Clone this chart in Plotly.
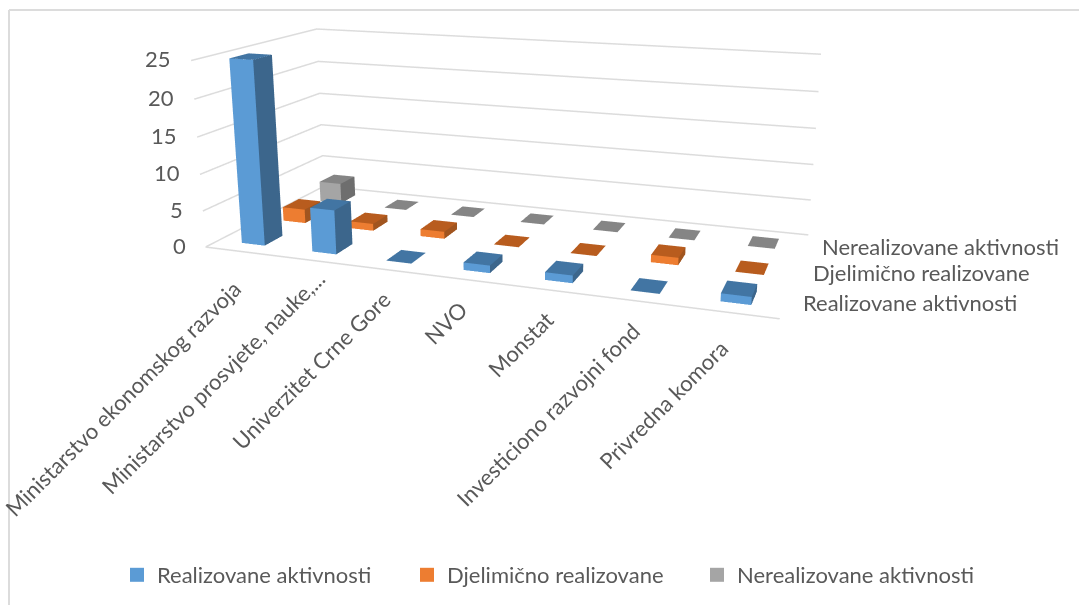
import plotly.graph_objects as go

categories = ["Ministarstvo ekonomskog razvoja", "Ministarstvo prosvjete, nauke,...", "Univerzitet Crne Gore", "NVO", "Monstat", "Investiciono razvojni fond", "Privredna komora"]
realizovane = [25, 6, 0, 1, 1, 0, 1]
djelimicno = [2, 1, 1, 0, 0, 1, 0]
nerealizovane = [3, 0, 0, 0, 0, 0, 0]
series_names = ["Realizovane aktivnosti", "Djelimično realizovane", "Nerealizovane aktivnosti"]
z_ticks = [0, 5, 10, 15, 20, 25]

W, H, TOP = 1079, 931, -284
def py(v):
    return 1-(v-TOP)/H

BAR_W = 0.33
BAR_D = 0.42
TXT = "#595959"
GRID = "#dcdcdc"
face_cols = [("#5B9BD5", "#3C668C", "#4275A3"), ("#ED7D31", "#A1551F", "#B85C1E"), ("#A5A5A5", "#6E6E6E", "#858585")]
label_dx = [8, 20, 10, 8, 10, 9, 4]
label_dy = [-21, -2, -13, -13, -13, -13, -19]

def bars(values, j, cols):
    X, Y, Z, I, J, K, C = [], [], [], [], [], [], []
    front, side, top = cols
    for i, v in enumerate(values):
        x0, x1 = i+0.5-BAR_W/2, i+0.5+BAR_W/2
        y0, y1 = j+0.5-BAR_D/2, j+0.5+BAR_D/2
        n = len(X)
        X += [x0,x1,x1,x0,x0,x1,x1,x0]
        Y += [y0,y0,y1,y1,y0,y0,y1,y1]
        Z += [0,0,0,0,v,v,v,v]
        tris = [(0,1,5,front),(0,5,4,front),(1,2,6,side),(1,6,5,side),(4,5,6,top),(4,6,7,top)]
        for a,b,d,col in tris:
            I.append(n+a); J.append(n+b); K.append(n+d); C.append(col)
    return go.Mesh3d(x=X,y=Y,z=Z,i=I,j=J,k=K,facecolor=C,flatshading=True,showlegend=False,hoverinfo="skip",
        lighting=dict(ambient=1,diffuse=0,specular=0,fresnel=0,roughness=1))

fig = go.Figure()
gx, gy, gz = [0, 7, None], [0, 0, None], [0, 0, None]
for v in z_ticks:
    gx += [0, 0, 7, None]; gy += [0, 3, 3, None]; gz += [v, v, v, None]
fig.add_trace(go.Scatter3d(x=gx, y=gy, z=gz, mode="lines", line=dict(color=GRID, width=3), showlegend=False, hoverinfo="skip"))
for j, vals in enumerate([realizovane, djelimicno, nerealizovane]):
    fig.add_trace(bars(vals, j, face_cols[j]))
for j, name in enumerate(series_names):
    fig.add_trace(go.Scatter(x=[None], y=[None], mode="markers", name=name, marker=dict(symbol="square", size=14, color=face_cols[j][0])))

FONT = dict(family="Lato", size=22, color=TXT)
ann = []
for i, c_ in enumerate(categories):
    ann.append(dict(x=i+0.5, y=0, z=0, text=c_, textangle=-45, xanchor="right", yanchor="top", yshift=label_dy[i], xshift=label_dx[i], showarrow=False, font=FONT))
for v in z_ticks:
    ann.append(dict(x=0, y=0, z=v, text=str(v), xanchor="right", yanchor="middle", xshift=-18, yshift=2, showarrow=False, font=FONT))
for j, name in enumerate(series_names):
    ann.append(dict(x=7, y=j+0.5, z=0, text=name, xanchor="left", yanchor="middle", xshift=15, showarrow=False, font=FONT))

noax = dict(showbackground=False, showgrid=False, zeroline=False, showticklabels=False, title="", showspikes=False, ticks="", showline=False, tickvals=[])
fig.update_layout(
    width=W, height=H, margin=dict(l=0,r=0,t=0,b=0), paper_bgcolor="white", plot_bgcolor="rgba(0,0,0,0)",
    font=FONT,
    xaxis=dict(visible=False), yaxis=dict(visible=False),
    legend=dict(orientation="h", x=117/W, y=py(575), xanchor="left", yanchor="middle", entrywidth=245, font=FONT, bgcolor="rgba(0,0,0,0)"),
    shapes=[dict(type="line", xref="paper", yref="paper", x0=9/W, x1=1, y0=py(10), y1=py(10), line=dict(color=GRID, width=2)),
            dict(type="line", xref="paper", yref="paper", x0=9/W, x1=9/W, y0=py(10), y1=py(605), line=dict(color=GRID, width=2))],
    scene=dict(domain=dict(x=[0,1038.4/W],y=[0,1]), aspectmode="manual", aspectratio=dict(x=2, y=0.8550, z=0.6655),
        camera=dict(eye=dict(x=1.3080, y=-3.6214, z=0.9404), center=dict(x=0.0334, y=-0.0181, z=-0.1033),
                    up=dict(x=-0.0014, y=-0.0005, z=1), projection=dict(type="perspective")),
        xaxis=dict(noax, range=[0,7]),
        yaxis=dict(noax, range=[0,3]),
        zaxis=dict(noax, range=[0,25]),
        annotations=ann),
)
post = ("document.documentElement.style.overflow='hidden';document.body.style.overflow='hidden';document.body.style.margin='0';"
        "var gd=document.getElementById('{plot_id}');gd.style.position='absolute';gd.style.left='0';gd.style.top='%dpx';" % TOP)
fig.write_html("out.html", config=dict(displayModeBar=False), post_script=post)
